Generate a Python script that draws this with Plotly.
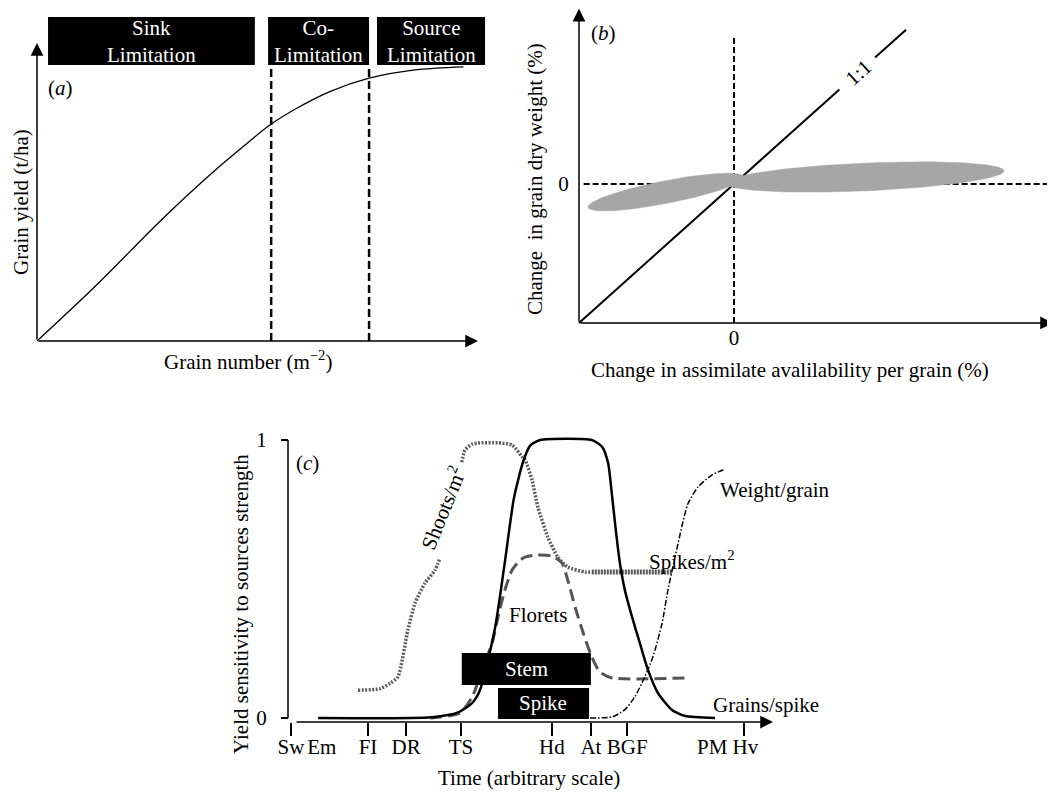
import numpy as np
import plotly.graph_objects as go

W, H = 1055, 796          # reference picture size
OFF = 8                   # browser body margin
FW, FH = W - OFF, H - OFF # figure size
FONT = "Liberation Serif"
FS = 21

# ---------------- Panel (a) data ----------------
grain_number = [0, 13.5, 28.6, 40.0, 47.6, 52.8, 58.9, 66.4, 75.3, 85.3, 96.7]
grain_yield = [0, 18.8, 41.2, 56.8, 66.3, 72.5, 78.1, 83.7, 88.2, 90.9, 92.0]
limit_bounds = [53.1, 75.3]
limit_top = 91.9
limit_names = ["Sink", "Co-", "Source"]
limit_spans = [(2.5, 49.4), (52.4, 75.3), (77.1, 101.6)]

# ---------------- Panel (b) data ----------------
one_to_one = [-100, 68, None, 91, 111]
one_to_one_label_pos = 80
clouds = [
    dict(cx=-43.9, cy=-5.8, ax=50.35, ay=10.75, b=8.3),
    dict(cx=84.2, cy=5.05, ax=90.0, ay=4.35, b=10.0),
]

# ---------------- Panel (c) data ----------------
stages = ["Sw", "Em", "FI", "DR", "TS", "Hd", "At", "BGF", "PM", "Hv"]
stage_t = [0, 6.8, 17, 25.4, 37.5, 57.6, 66.2, 74.2, 93.0, 100.3]
ticked_t = [0, 17, 25.4, 37.5, 57.6, 66.2, 74.2, 100]

grains_t = [6.0, 31.1, 36.9, 40.0, 41.7, 45.0, 47.2, 49.2, 51.2, 52.8, 55.0, 66.4,
            68.7, 70.0, 70.9, 71.7, 72.6, 73.7, 75.3, 77.0, 78.8, 81.0, 84.1, 87.0, 93.6]
grains_v = [0.0, 0.003, 0.02, 0.054, 0.1, 0.32, 0.56, 0.79, 0.92, 0.98, 1.0, 1.0,
            0.975, 0.917, 0.795, 0.676, 0.558, 0.46, 0.363, 0.27, 0.173, 0.09, 0.029, 0.007, 0.0]

shoots_t = [14.8, 19.6, 21.9, 23.6, 25.8, 27.4, 29.6, 31.8, 32.9, None,
            37.7, 38.4, 40.0, 41.3, 45.7, 48.8, 51.0, 51.7, 53.2, 54.5, 56.7, 58.9, 61.1, 64.9, 66.4]
shoots_v = [0.10, 0.105, 0.125, 0.148, 0.317, 0.414, 0.486, 0.532, 0.576, None,
            0.92, 0.964, 0.985, 0.989, 0.99, 0.982, 0.94, 0.928, 0.856, 0.759, 0.651, 0.579, 0.543, 0.525, 0.525]

spikes_t = [66.4, 84.1]
spikes_v = [0.525, 0.525]

florets_t = [30.7, 37.3, 40.0, 42.2, 44.4, 45.7, 47.2, 48.8, 50.6, 51.7, 53.9, 57.6,
             59.8, 61.1, 62.7, 64.5, 66.4, 68.2, 70.9, 87.4]
florets_v = [0.0, 0.018, 0.076, 0.173, 0.27, 0.363, 0.46, 0.532, 0.568, 0.579, 0.586, 0.583,
             0.558, 0.496, 0.40, 0.306, 0.22, 0.165, 0.144, 0.144]

weight_t = [66.0, 70.9, 73.7, 75.9, 78.1, 79.9, 81.9, 83.2, 84.8, 86.3, 87.6, 89.8, 92.9, 95.8]
weight_v = [0.0, 0.004, 0.03, 0.076, 0.148, 0.22, 0.34, 0.46, 0.58, 0.69, 0.77, 0.83, 0.874, 0.895]

stem_period = (37.7, 66.2)
spike_period = (45.7, 65.8)

# ---------------- geometry helpers (reference pixels -> paper) ----------------
def clamp(v):
    return min(1.0, max(0.0, v))

def fx(px):
    return (px - OFF) / FW

def fy(py):
    return 1 - (py - OFF) / FH

def dom_x(p0, s, r):
    return [clamp(fx(p0 + s * r[0])), clamp(fx(p0 + s * r[1]))]

def dom_y(p0, s, r):
    return [clamp(fy(p0 - s * r[0])), clamp(fy(p0 - s * r[1]))]

A_XR, A_YR = [-5, 112], [-8, 111.5]
B_XR, B_YR = [-115, 206.5], [-135, 126.5]
C_XR, C_YR = [-10, 125], [-0.2, 1.06]

fig = go.Figure()

# ---- panel (a) traces
for xb in limit_bounds:
    fig.add_trace(go.Scatter(x=[xb, xb], y=[0, limit_top], mode="lines",
                             line=dict(color="black", width=2.5, dash="8px,4px"),
                             xaxis="x", yaxis="y", hoverinfo="skip"))
fig.add_trace(go.Scatter(x=grain_number, y=grain_yield, mode="lines",
                         line=dict(color="black", width=1.3, shape="spline", smoothing=1.0),
                         xaxis="x", yaxis="y", hoverinfo="skip"))

# ---- panel (b) traces
fig.add_trace(go.Scatter(x=[0, 0], y=[-100, 105], mode="lines",
                         line=dict(color="black", width=2, dash="6px,3px"),
                         xaxis="x2", yaxis="y2", hoverinfo="skip"))
fig.add_trace(go.Scatter(x=[-97, 205.8], y=[0, 0], mode="lines",
                         line=dict(color="black", width=2, dash="6px,3px"),
                         xaxis="x2", yaxis="y2", hoverinfo="skip"))
fig.add_trace(go.Scatter(x=one_to_one, y=one_to_one, mode="lines",
                         line=dict(color="black", width=2),
                         xaxis="x2", yaxis="y2", hoverinfo="skip"))
tt = np.linspace(0, 2 * np.pi, 181)
for c in clouds:
    fig.add_trace(go.Scatter(x=c["cx"] + c["ax"] * np.cos(tt),
                             y=c["cy"] + c["ay"] * np.cos(tt) + c["b"] * np.sin(tt),
                             mode="lines", fill="toself", fillcolor="#a6a6a6",
                             line=dict(color="#a6a6a6", width=0.5),
                             xaxis="x2", yaxis="y2", hoverinfo="skip"))

# ---- panel (c) traces
fig.add_trace(go.Scatter(x=[-0.66, -0.66], y=[0, 1], mode="lines",
                         line=dict(color="black", width=1.5),
                         xaxis="x3", yaxis="y3", hoverinfo="skip"))
fig.add_trace(go.Scatter(x=shoots_t, y=shoots_v, mode="lines",
                         line=dict(color="#5e5e5e", width=3.5, dash="2px,1.5px",
                                   shape="spline", smoothing=0.6),
                         connectgaps=False, xaxis="x3", yaxis="y3", hoverinfo="skip"))
fig.add_trace(go.Scatter(x=spikes_t, y=spikes_v, mode="lines",
                         line=dict(color="#555555", width=5, dash="2px,1px"),
                         xaxis="x3", yaxis="y3", hoverinfo="skip"))
fig.add_trace(go.Scatter(x=florets_t, y=florets_v, mode="lines",
                         line=dict(color="#555555", width=3, dash="12px,6px",
                                   shape="spline", smoothing=0.6),
                         xaxis="x3", yaxis="y3", hoverinfo="skip"))
fig.add_trace(go.Scatter(x=weight_t, y=weight_v, mode="lines",
                         line=dict(color="black", width=1.5, dash="6px,2px,1.5px,2px",
                                   shape="spline", smoothing=0.6),
                         xaxis="x3", yaxis="y3", hoverinfo="skip"))
fig.add_trace(go.Scatter(x=grains_t, y=grains_v, mode="lines",
                         line=dict(color="black", width=2.5, shape="spline", smoothing=0.6),
                         xaxis="x3", yaxis="y3", hoverinfo="skip"))
fig.add_trace(go.Scatter(x=[None], y=[None], xaxis="x4", yaxis="y3", hoverinfo="skip"))

# ---- boxes (shapes)
shapes = []
for (x0, x1) in limit_spans:
    shapes.append(dict(type="rect", xref="x", yref="y", x0=x0, x1=x1, y0=92.6, y1=108.7,
                       fillcolor="black", line=dict(width=0), layer="above"))
for (x0, x1), (y0, y1) in [(stem_period, (0.119, 0.234)), (spike_period, (-0.004, 0.108))]:
    shapes.append(dict(type="rect", xref="x3", yref="y3", x0=x0, x1=x1, y0=y0, y1=y1,
                       fillcolor="black", line=dict(width=0), layer="above"))

# ---- text annotations
def txt(s, px, py, size=FS, color="black", angle=0):
    return dict(text=s, x=fx(px), y=fy(py), xref="paper", yref="paper", showarrow=False,
                font=dict(family=FONT, size=size, color=color), textangle=angle,
                xanchor="center", yanchor="middle")

def arrow(xr, yr, x, y, ax, ay):
    return dict(x=x, y=y, ax=ax, ay=ay, xref=xr, yref=yr, axref=xr, ayref=yr, text="",
                showarrow=True, arrowhead=2, arrowsize=1.7, arrowwidth=1.5,
                arrowcolor="black", standoff=0)

ann = []
# panel a
box_centres = [151, 318, 431]
for name, cxp in zip(limit_names, box_centres):
    ann.append(txt(name + "<br>Limitation", cxp, 42, color="white"))
ann.append(txt("(<i>a</i>)", 60, 88))
ann.append(txt("Grain yield (t/ha)", 21, 202, angle=-90))
ann.append(txt("Grain number (m<sup>−2</sup>)", 248, 360))
ann.append(arrow("x", "y", 0, 100, 0, 0))
ann.append(arrow("x", "y", 100, 0, 0, 0))
# panel b
ann.append(txt("(<i>b</i>)", 603, 33))
ann.append(txt("Change  in grain dry weight (%)", 535, 179, angle=-90))
ann.append(txt("Change in assimilate avalilability per grain (%)", 790, 370))
ann.append(dict(text="1:1", x=one_to_one_label_pos, y=one_to_one_label_pos, xref="x2", yref="y2",
                showarrow=False, font=dict(family=FONT, size=FS, color="black"), textangle=-42))
ann.append(arrow("x2", "y2", -100, 126, -100, -100))
ann.append(arrow("x2", "y2", 205.8, -100, -100, -100))
# panel c
ann.append(txt("(<i>c</i>)", 307, 463))
ann.append(txt("Yield sensitivity to sources strength", 241, 604, angle=-90))
ann.append(txt("Time (arbitrary scale)", 529, 778))
ann.append(txt("Weight/grain", 775, 490))
ann.append(txt("Spikes/m<sup>2</sup>", 692, 560))
ann.append(txt("Florets", 538, 615))
ann.append(txt("Grains/spike", 766, 705))
ann.append(txt("Shoots/m<sup>2</sup>", 442, 508, angle=-68))
ann.append(txt("Stem", 526, 669, color="white"))
ann.append(txt("Spike", 543, 703, color="white"))
ann.append(arrow("x3", "y3", 106.4, -0.0144, 0.9, -0.0144))

tickfont = dict(family=FONT, size=FS, color="black")
noline = dict(showline=False, showgrid=False, zeroline=False)

fig.update_layout(
    width=FW, height=FH, margin=dict(l=0, r=0, t=0, b=0, pad=0), autosize=False,
    paper_bgcolor="white", plot_bgcolor="rgba(0,0,0,0)", showlegend=False,
    font=dict(family=FONT, size=FS, color="black"),
    xaxis=dict(range=A_XR, domain=dom_x(37, 4.41, A_XR), visible=False, anchor="y"),
    yaxis=dict(range=A_YR, domain=dom_y(341, 2.98, A_YR), visible=False, anchor="x"),
    xaxis2=dict(range=B_XR, domain=dom_x(734, 1.55, B_XR), anchor="free", position=fy(323),
                tickvals=[0], ticktext=["0"], ticks="", tickangle=0,
                tickfont=tickfont, **noline),
    yaxis2=dict(range=B_YR, domain=dom_y(184, 1.39, B_YR), anchor="free", position=fx(579),
                tickvals=[0], ticktext=["0"], ticks="outside", ticklen=6,
                tickcolor="rgba(0,0,0,0)", tickfont=tickfont, **noline),
    xaxis3=dict(range=C_XR, domain=dom_x(291, 4.53, C_XR), anchor="free", position=fy(722),
                tickvals=ticked_t, ticks="outside", ticklen=13, tickwidth=1.5,
                tickcolor="black", showticklabels=False, **noline),
    xaxis4=dict(range=C_XR, overlaying="x3", anchor="free", position=fy(722),
                tickvals=stage_t, ticktext=stages, ticks="outside", ticklen=6, tickangle=0,
                tickcolor="rgba(0,0,0,0)", tickfont=tickfont, **noline),
    yaxis3=dict(range=C_YR, domain=dom_y(718, 278, C_YR), anchor="free", position=fx(288),
                tickvals=[0, 1], ticktext=["0", "1"], ticks="outside", ticklen=7, tickwidth=1.5,
                ticklabelstandoff=10,
                tickcolor="black", tickfont=tickfont, **noline),
    shapes=shapes,
    annotations=ann,
)

fig.write_html("out.html")
